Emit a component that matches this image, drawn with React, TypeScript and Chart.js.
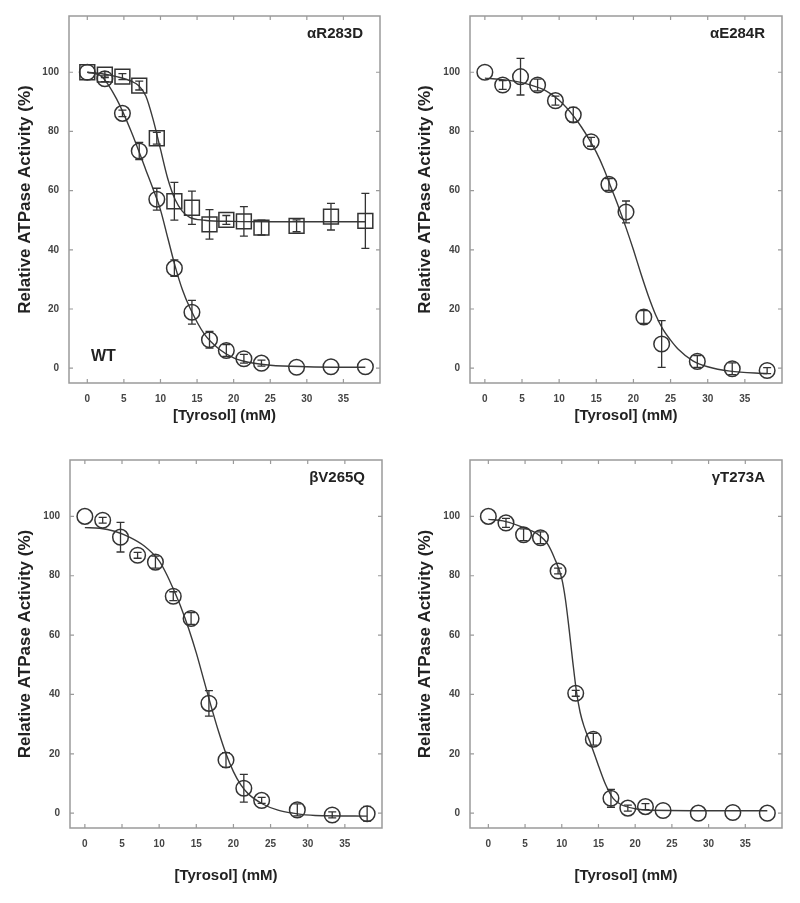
import React, { useEffect, useRef } from 'react';
import { Chart, registerables } from 'chart.js';
Chart.register(...registerables);

// ---------- data ----------
const X_TICKS = [0, 5, 10, 15, 20, 25, 30, 35];
const Y_TICKS = [0, 20, 40, 60, 80, 100];
const TYROSOL = [0, 2.4, 4.8, 7.1, 9.5, 11.9, 14.3, 16.7, 19.0, 21.4, 23.8, 28.6, 33.3, 38.0];

const WT_ACT = [100, 97.8, 86.1, 73.4, 57.1, 33.8, 18.9, 9.6, 6.0, 3.2, 1.7, 0.3, 0.5, 0.5];
const WT_ERR = [0.5, 1, 1.1, 2.9, 3.7, 2.8, 4, 2.8, 2, 1.5, 1, 0.5, 0.5, 0.5];
const R283D_ACT = [100, 99.2, 98.5, 95.5, 77.7, 56.4, 54.2, 48.6, 50.1, 49.6, 47.5, 48.1, 51.2, 49.8];
const R283D_ERR = [0.5, 1, 1, 1.5, 2, 6.4, 5.6, 5, 1.5, 5, 2.5, 2, 4.5, 9.3];
const E284R_ACT = [100, 95.7, 98.5, 95.7, 90.4, 85.6, 76.5, 62.1, 52.8, 17.3, 8.2, 2.3, -0.2, -0.8];
const E284R_ERR = [0, 1.5, 6.2, 2, 1.5, 2.5, 1.5, 2, 3.7, 2.2, 7.9, 2, 2, 1];
const V265Q_ACT = [100, 98.7, 93, 86.9, 84.6, 73.1, 65.6, 37, 17.9, 8.4, 4.3, 1.1, -0.6, -0.2];
const V265Q_ERR = [0, 1, 5, 1, 2, 1.5, 2, 4.3, 2.5, 4.7, 1, 2, 1, 2.5];
const T273A_ACT = [100, 97.8, 93.8, 92.8, 81.6, 40.4, 24.9, 5, 1.7, 2.2, 0.9, 0, 0.2, 0];
const T273A_ERR = [0, 1.5, 2, 2, 1, 1, 2, 3, 1, 1, 0.5, 0.5, 0.5, 0.5];

// fitted curves
const FIT_WT_X = [0, 2, 4, 6, 8, 9, 10, 11, 12, 13, 14, 16, 18, 20, 22, 25, 30, 38];
const FIT_WT_Y = [100, 98.5, 91, 80, 67, 60.5, 53.5, 44, 34.5, 26.5, 20.5, 11.5, 6.5, 3.5, 2, 1, 0.5, 0.3];
const FIT_R283D_X = [0, 2, 4, 6, 7, 8, 9, 10, 11, 12, 13, 14, 16, 20, 25, 38];
const FIT_R283D_Y = [100, 99.5, 98.5, 97, 95.5, 92, 84, 74, 64, 57, 53, 51, 50, 49.6, 49.5, 49.5];
const FIT_E284R_X = [0, 2, 4, 6, 8, 10, 12, 13, 14, 15, 16, 17, 18, 19, 20, 21, 22, 23, 24, 25, 26, 28, 30, 33, 38];
const FIT_E284R_Y = [98, 97.6, 97, 95.8, 94, 90.5, 85, 81.5, 77.5, 73, 67.5, 61, 54.5, 47.5, 40, 32, 24.5, 18, 13, 9.5, 6.5, 2.5, 0.5, -1, -1.8];
const FIT_V265Q_X = [0, 2, 4, 6, 8, 10, 11, 12, 13, 14, 15, 16, 17, 18, 19, 20, 21, 22, 24, 26, 28, 31, 38];
const FIT_V265Q_Y = [96.2, 96, 95, 93, 90, 85, 80.5, 75, 69, 62, 54, 45, 36, 27.5, 20, 14, 9.5, 6.5, 3, 1, 0, -0.8, -1];
const FIT_T273A_X = [0, 2, 4, 6, 7, 8, 9, 10, 10.5, 11, 11.5, 12, 12.5, 13, 14, 15, 16, 17, 18, 20, 22, 38];
const FIT_T273A_Y = [99, 98.5, 97, 95, 93.5, 91, 86, 79, 72, 62, 51, 41, 34, 29.5, 23, 16, 9.5, 5, 3, 1.5, 1, 0.8];

const LABELS = ['αR283D', 'αE284R', 'βV265Q', 'γT273A'];

// ---------- styling ----------
const FONT = "'Liberation Sans', Arial, sans-serif";
const INK = '#333';
const FRAME = '#9a9a9a';

const framePlugin = {
  id: 'frame',
  beforeDatasetsDraw(chart: any) {
    const { ctx, chartArea: a, scales } = chart;
    const x = scales.x, y = scales.y;
    ctx.save();
    ctx.strokeStyle = FRAME;
    ctx.lineWidth = 1.5;
    ctx.strokeRect(a.left, a.top, a.right - a.left, a.bottom - a.top);
    ctx.lineWidth = 1.2;
    ctx.beginPath();
    for (const v of X_TICKS) {
      const px = x.getPixelForValue(v);
      ctx.moveTo(px, a.bottom); ctx.lineTo(px, a.bottom - 4);
      ctx.moveTo(px, a.top); ctx.lineTo(px, a.top + 4);
    }
    for (const v of Y_TICKS) {
      const py = y.getPixelForValue(v);
      ctx.moveTo(a.left, py); ctx.lineTo(a.left + 4, py);
      ctx.moveTo(a.right, py); ctx.lineTo(a.right - 4, py);
    }
    ctx.stroke();
    ctx.restore();
  },
};

const errorPlugin = {
  id: 'errbars',
  afterDatasetsDraw(chart: any) {
    const { ctx, scales } = chart;
    const x = scales.x, y = scales.y;
    ctx.save();
    ctx.strokeStyle = INK;
    ctx.lineWidth = 1.3;
    chart.data.datasets.forEach((ds: any) => {
      if (!ds.errors) return;
      ds.data.forEach((pt: any, j: number) => {
        const e = ds.errors[j];
        if (!e || e < 0.8) return;
        const px = x.getPixelForValue(pt.x);
        const t = y.getPixelForValue(pt.y + e);
        const b = y.getPixelForValue(pt.y - e);
        ctx.beginPath();
        ctx.moveTo(px, t); ctx.lineTo(px, b);
        ctx.moveTo(px - 4, t); ctx.lineTo(px + 4, t);
        ctx.moveTo(px - 4, b); ctx.lineTo(px + 4, b);
        ctx.stroke();
      });
    });
    ctx.restore();
  },
};

const textPlugin = {
  id: 'panelText',
  afterDraw(chart: any, _args: any, opts: any) {
    const { ctx, chartArea: a } = chart;
    ctx.save();
    ctx.fillStyle = '#222';
    ctx.font = `bold 15px ${FONT}`;
    ctx.textBaseline = 'middle';
    ctx.textAlign = 'right';
    ctx.fillText(opts.label, a.right - 17, a.top + 18);
    if (opts.wt) {
      ctx.textAlign = 'left';
      ctx.font = `bold 16px ${FONT}`;
      ctx.fillText('WT', a.left + 22, a.bottom - 26);
    }
    ctx.restore();
  },
};

type Series = { acts: number[]; errs: number[]; style: 'circle' | 'rect' };
type Fit = { xs: number[]; ys: number[] };
type PanelDef = {
  left: number; top: number; w: number; h: number;
  areaL: number; areaR: number; areaT: number; areaB: number;
  xMin: number; label: string; wt: boolean; xTitlePad: number;
  series: Series[]; fits: Fit[];
};

const PANELS: PanelDef[] = [
  {
    left: 0, top: 0, w: 400, h: 444, areaL: 69, areaR: 380, areaT: 16, areaB: 383, xMin: -2.5,
    label: LABELS[0], wt: true, xTitlePad: 19,
    series: [
      { acts: WT_ACT, errs: WT_ERR, style: 'circle' },
      { acts: R283D_ACT, errs: R283D_ERR, style: 'rect' },
    ],
    fits: [{ xs: FIT_WT_X, ys: FIT_WT_Y }, { xs: FIT_R283D_X, ys: FIT_R283D_Y }],
  },
  {
    left: 400, top: 0, w: 400, h: 444, areaL: 70, areaR: 382, areaT: 16, areaB: 383, xMin: -2,
    label: LABELS[1], wt: false, xTitlePad: 19,
    series: [{ acts: E284R_ACT, errs: E284R_ERR, style: 'circle' }],
    fits: [{ xs: FIT_E284R_X, ys: FIT_E284R_Y }],
  },
  {
    left: 0, top: 444, w: 400, h: 459, areaL: 70, areaR: 382, areaT: 16, areaB: 384, xMin: -2,
    label: LABELS[2], wt: false, xTitlePad: 18,
    series: [{ acts: V265Q_ACT, errs: V265Q_ERR, style: 'circle' }],
    fits: [{ xs: FIT_V265Q_X, ys: FIT_V265Q_Y }],
  },
  {
    left: 400, top: 444, w: 400, h: 459, areaL: 70, areaR: 382, areaT: 16, areaB: 384, xMin: -2.5,
    label: LABELS[3], wt: false, xTitlePad: 18,
    series: [{ acts: T273A_ACT, errs: T273A_ERR, style: 'circle' }],
    fits: [{ xs: FIT_T273A_X, ys: FIT_T273A_Y }],
  },
];

function Panel({ p }: { p: PanelDef }) {
  const ref = useRef<HTMLCanvasElement>(null);
  useEffect(() => {
    const datasets: any[] = [];
    p.fits.forEach((f) => {
      datasets.push({
        data: f.xs.map((x, i) => ({ x, y: f.ys[i] })),
        showLine: true,
        pointRadius: 0,
        borderColor: '#3a3a3a',
        borderWidth: 1.4,
        cubicInterpolationMode: 'monotone',
        fill: false,
        order: 2,
      });
    });
    p.series.forEach((s) => {
      datasets.push({
        data: TYROSOL.map((x, i) => ({ x, y: s.acts[i] })),
        errors: s.errs,
        showLine: false,
        pointStyle: s.style,
        pointRadius: s.style === 'rect' ? 10.5 : 7.8,
        pointBorderWidth: 1.5,
        pointBorderColor: INK,
        pointBackgroundColor: 'rgba(0,0,0,0)',
        order: 1,
      });
    });
    const tickFont = { family: FONT, size: 10, weight: 'bold' as const };
    const chart = new Chart(ref.current!, {
      type: 'scatter',
      data: { datasets },
      options: {
        animation: false,
        responsive: false,
        maintainAspectRatio: false,
        layout: { padding: { left: 0, top: p.areaT, right: p.w - p.areaR, bottom: 0 } },
        plugins: {
          legend: { display: false },
          tooltip: { enabled: false },
          panelText: { label: p.label, wt: p.wt },
        } as any,
        scales: {
          x: {
            type: 'linear',
            min: p.xMin,
            max: 40,
            afterBuildTicks: (s: any) => { s.ticks = X_TICKS.map((v) => ({ value: v })); },
            afterFit: (s: any) => { s.height = p.h - p.areaB; },
            grid: { display: false, drawTicks: false },
            border: { display: false },
            ticks: { padding: 10, color: '#444', font: tickFont, callback: (v: any) => String(v) },
            title: {
              display: true, text: '[Tyrosol] (mM)', color: '#222',
              font: { family: FONT, size: 15, weight: 'bold' },
              padding: { top: 0, bottom: p.xTitlePad },
            },
          },
          y: {
            type: 'linear',
            min: -5,
            max: 119,
            afterBuildTicks: (s: any) => { s.ticks = Y_TICKS.map((v) => ({ value: v })); },
            afterFit: (s: any) => { s.width = p.areaL; },
            grid: { display: false, drawTicks: false },
            border: { display: false },
            ticks: { padding: 10, color: '#444', font: tickFont, callback: (v: any) => String(v) },
            title: {
              display: true, text: 'Relative ATPase Activity (%)', color: '#222',
              font: { family: FONT, size: 17, weight: 'bold' },
              padding: { top: 15, bottom: 0 },
            },
          },
        },
      },
      plugins: [framePlugin, errorPlugin, textPlugin],
    } as any);
    return () => chart.destroy();
  }, [p]);
  return (
    <canvas
      ref={ref}
      width={p.w}
      height={p.h}
      style={{ position: 'absolute', left: p.left, top: p.top, width: p.w, height: p.h }}
    />
  );
}

export default function App() {
  return (
    <div style={{ position: 'absolute', left: 0, top: 0, width: 800, height: 903, background: '#fff' }}>
      {PANELS.map((p, i) => (
        <Panel key={i} p={p} />
      ))}
    </div>
  );
}
